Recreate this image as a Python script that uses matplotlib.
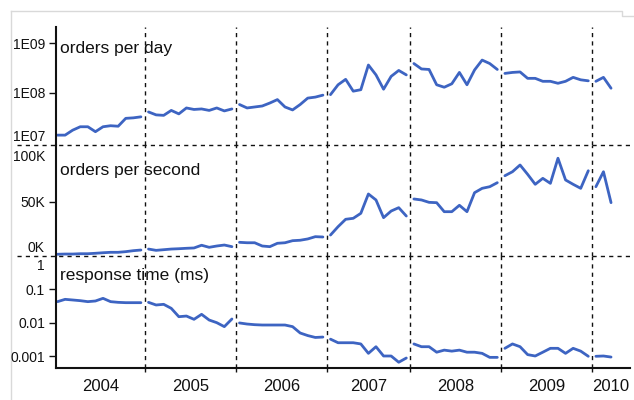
import numpy as np
import matplotlib
matplotlib.use('Agg')
import matplotlib.pyplot as plt
from matplotlib.lines import Line2D
from matplotlib.transforms import ScaledTranslation

plt.rcParams['font.family'] = ['Liberation Sans', 'DejaVu Sans']

# one list per year, one value per month (2007 has 11 months, 2010 only 3)
years = ['2004', '2005', '2006', '2007', '2008', '2009', '2010']

# orders per day, in millions
orders_day = [
    [13.8, 13.8, 17.4, 20.4, 20.4, 16.2, 20.4, 21.4, 20.9, 30.2, 30.9, 32.4],
    [40.7, 35.5, 34.7, 43.7, 37.2, 49.0, 45.7, 46.8, 43.7, 49.0, 42.7, 46.8],
    [57.5, 49.0, 51.3, 53.7, 61.7, 72.4, 51.3, 44.7, 57.5, 77.6, 81.3, 89.1],
    [91.2, 144.5, 186.2, 107.2, 114.8, 363.1, 229.1, 117.5, 213.8, 281.8, 229.1],
    [389.0, 302.0, 295.1, 144.5, 128.8, 151.4, 257.0, 144.5, 288.4, 457.1, 389.0, 295.1],
    [245.5, 257.0, 263.0, 195.0, 195.0, 169.8, 169.8, 154.9, 169.8, 204.2, 182.0, 173.8],
    [169.8, 204.2, 123.0],
]

# orders per second, in thousands
orders_sec = [
    [1.6, 1.8, 1.8, 2.1, 2.1, 2.5, 3.0, 3.4, 3.4, 4.0, 4.9, 5.5],
    [6.4, 5.2, 5.8, 6.4, 6.7, 7.1, 7.4, 9.9, 8.0, 9.2, 10.1, 8.6],
    [12.6, 12.2, 12.2, 9.2, 8.6, 11.7, 12.2, 14.1, 14.5, 15.7, 17.8, 17.5],
    [19.3, 27.0, 33.8, 34.7, 39.3, 57.1, 51.6, 35.3, 41.4, 44.5, 36.8],
    [52.5, 51.6, 49.4, 49.1, 40.8, 40.8, 46.7, 40.8, 58.3, 62.3, 63.8, 67.5],
    [73.9, 77.6, 83.8, 75.2, 66.0, 71.5, 66.9, 90.0, 70.0, 66.0, 62.3, 78.5],
    [63.8, 77.6, 49.1],
]

# response time in ms
resp_ms = [
    [0.0427, 0.0501, 0.0479, 0.0457, 0.0427, 0.0447, 0.0537, 0.0427, 0.0407, 0.0398, 0.0398, 0.0398],
    [0.0407, 0.0339, 0.0355, 0.0269, 0.0151, 0.0158, 0.0126, 0.0178, 0.0120, 0.0100, 0.0076, 0.0129],
    [0.0098, 0.0091, 0.0087, 0.0085, 0.0085, 0.0085, 0.0085, 0.0076, 0.0049, 0.0041, 0.0036, 0.0037],
    [0.0032, 0.0025, 0.0025, 0.0025, 0.0023, 0.0012, 0.0019, 0.0010, 0.0010, 0.00065, 0.00087],
    [0.0023, 0.0019, 0.0019, 0.0013, 0.0015, 0.0014, 0.0015, 0.0013, 0.0013, 0.0012, 0.00091, 0.00091],
    [0.0017, 0.0023, 0.0019, 0.0011, 0.0010, 0.0013, 0.0017, 0.0017, 0.0012, 0.0017, 0.0014, 0.00098],
    [0.00098, 0.0010, 0.00093],
]

blue = '#3d64c2'
ink = '#111111'

counts = [len(v) for v in orders_day]
starts = np.concatenate([[0], np.cumsum(counts)[:-1]])
xmin, xmax = 0.3, starts[-1] + 5

fig = plt.figure(figsize=(6.34, 4.0), dpi=100)
W, H = 634.0, 400.0
left, right = 56 / W, 630 / W
ax1 = fig.add_axes([left, (H - 145) / H, right - left, 118 / H])
ax2 = fig.add_axes([left, (H - 256) / H, right - left, 111 / H])
ax3 = fig.add_axes([left, (H - 368) / H, right - left, 112 / H])
axes = [ax1, ax2, ax3]

series = [
    [[v * 1e6 for v in yr] for yr in orders_day],
    [[v * 1e3 for v in yr] for yr in orders_sec],
    resp_ms,
]
for ax, ser in zip(axes, series):
    for s, vals in zip(starts, ser):
        x = s + np.arange(len(vals)) + 0.5
        ax.plot(x, vals, color=blue, lw=2.0, solid_joinstyle='round', solid_capstyle='round')
    ax.set_xlim(xmin, xmax)
    for s in starts[1:]:
        ax.axvline(s, color=ink, lw=1.0, ls=(0, (3, 3)))
    for side in ['top', 'right', 'bottom']:
        ax.spines[side].set_visible(False)
    ax.spines['left'].set_linewidth(1.5)
    ax.spines['left'].set_color(ink)
    ax.set_xticks([])
    ax.tick_params(axis='y', length=5, width=1, pad=3, labelsize=10, colors=ink)
    ax.patch.set_alpha(0)


def nudge(label, dy_px):
    # move an edge tick label up (+) or down (-) so it stays inside its panel
    label.set_transform(label.get_transform() + ScaledTranslation(0, dy_px / 100, fig.dpi_scale_trans))


# top panel
ax1.set_yscale('log')
ax1.set_ylim(10 ** 6.94, 10 ** 9.33)
ax1.set_yticks([1e7, 1e8, 1e9])
ax1.set_yticklabels(['1E07', '1E08', '1E09'])
ax1.yaxis.set_minor_locator(matplotlib.ticker.NullLocator())
nudge(ax1.get_yticklabels()[0], 7)
ax1.yaxis.get_major_ticks()[0].tick1line.set_visible(False)

# middle panel
ax2.set_ylim(0, 102200)
ax2.set_yticks([0, 50000, 100000])
ax2.set_yticklabels(['0K', '50K', '100K'])
nudge(ax2.get_yticklabels()[0], 9)
nudge(ax2.get_yticklabels()[2], -8)
ax2.yaxis.get_major_ticks()[0].tick1line.set_visible(False)
ax2.yaxis.get_major_ticks()[2].tick1line.set_visible(False)

# bottom panel
ax3.set_yscale('log')
ax3.set_ylim(10 ** -3.36, 1.0)
ax3.set_yticks([0.001, 0.01, 0.1, 1])
ax3.set_yticklabels(['0.001', '0.01', '0.1', '1'])
ax3.yaxis.set_minor_locator(matplotlib.ticker.NullLocator())
nudge(ax3.get_yticklabels()[3], -9)
ax3.yaxis.get_major_ticks()[3].tick1line.set_visible(False)
ax3.spines['bottom'].set_visible(True)
ax3.spines['bottom'].set_linewidth(1.5)
ax3.spines['bottom'].set_color(ink)
for s in starts[1:]:
    ax3.plot([s, s], [-0.04, 0], color=ink, lw=1.0, ls=(0, (3, 3)),
             transform=ax3.get_xaxis_transform(), clip_on=False)

# year labels centred on each year's span
centers = [s + c / 2 for s, c in zip(starts, counts)]
centers[0] = (xmin + counts[0]) / 2
centers[-1] = (starts[-1] + xmax) / 2
for c, yr in zip(centers, years):
    ax3.text(c, -0.165, yr, transform=ax3.get_xaxis_transform(), ha='center', va='center',
             fontsize=12, color=ink)

# panel titles
ax1.text(0.007, 0.814, 'orders per day', transform=ax1.transAxes, ha='left', va='center',
         fontsize=12.5, color=ink)
ax2.text(0.007, 0.768, 'orders per second', transform=ax2.transAxes, ha='left', va='center',
         fontsize=12.5, color=ink)
ax3.text(0.007, 0.824, 'response time (ms)', transform=ax3.transAxes, ha='left', va='center',
         fontsize=12.5, color=ink)

# dashed separators between the panels
for ax in [ax1, ax2]:
    ax.plot([-0.068, 1], [0, 0], color=ink, lw=1.0, ls=(0, (3, 3)),
            transform=ax.transAxes, clip_on=False)

# light frame from the page the chart sits on
frame = '#d9d9d9'
fig.add_artist(Line2D([11 / W, 622 / W, 622 / W, 1], [1 - 11 / H, 1 - 11 / H, 1 - 16 / H, 1 - 16 / H],
                      color=frame, lw=1, transform=fig.transFigure, zorder=0))
fig.add_artist(Line2D([11 / W, 11 / W], [1 - 11 / H, 0], color=frame, lw=1,
                      transform=fig.transFigure, zorder=0))

fig.savefig('out.png', dpi=100)
